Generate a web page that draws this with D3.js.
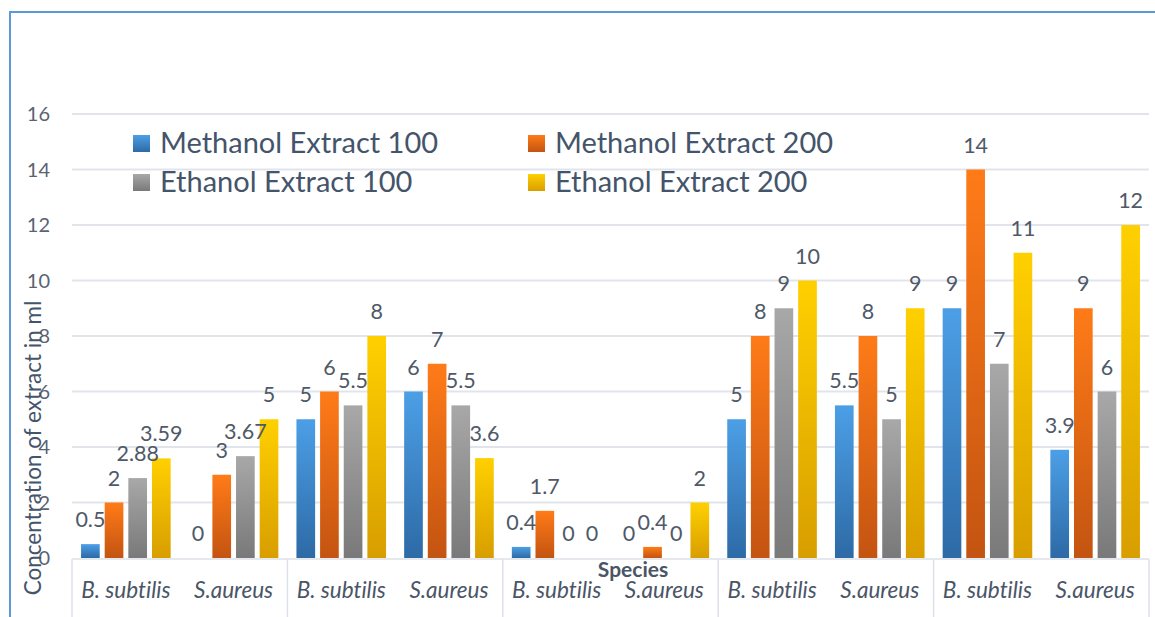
<!DOCTYPE html>
<html>
<head>
<meta charset="utf-8">
<script src="https://cdn.jsdelivr.net/npm/d3@7"></script>
<style>
    body { margin: 0; background: #fff; }
    svg { display: block; font-family: Lato, "Open Sans", sans-serif; font-variant-ligatures: none; }
</style>
</head>
<body>
<div id="chart"></div>
<script>
var categories = ['B. subtilis', 'S.aureus', 'B. subtilis', 'S.aureus', 'B. subtilis',
                  'S.aureus', 'B. subtilis', 'S.aureus', 'B. subtilis', 'S.aureus'];
var seriesNames = ['Methanol Extract 100', 'Methanol Extract 200',
                   'Ethanol Extract 100', 'Ethanol Extract 200'];
var methanol100 = [0.5, 0, 5, 6, 0.4, 0, 5, 5.5, 9, 3.9];
var methanol200 = [2, 3, 6, 7, 1.7, 0.4, 8, 8, 14, 9];
var ethanol100 = [2.88, 3.67, 5.5, 5.5, 0, 0, 9, 5, 7, 6];
var ethanol200 = [3.59, 5, 8, 3.6, 0, 2, 10, 9, 11, 12];
var yTicks = [0, 2, 4, 6, 8, 10, 12, 14, 16];

var seriesValues = [methanol100, methanol200, ethanol100, ethanol200];
var gradColors = [['#4c9fe6', '#2d6aa6'], ['#ff7b18', '#c35411'],
                  ['#a8a8a8', '#797979'], ['#ffd000', '#d89e00']];

var width = 1155,
    height = 617,
    plotLeft = 72,
    plotRight = 1149,
    plotBottom = 558,
    plotTop = 114;

var svg = d3.select('#chart')
    .append('svg')
    .attr('width', width)
    .attr('height', height);

var defs = svg.append('defs');
gradColors.forEach(function (c, i) {
    var g = defs.append('linearGradient')
        .attr('id', 'grad' + i)
        .attr('x1', 0).attr('y1', 0)
        .attr('x2', 0).attr('y2', 1);
    g.append('stop').attr('offset', '0%').attr('stop-color', c[0]);
    g.append('stop').attr('offset', '100%').attr('stop-color', c[1]);
});

// chart frame
svg.append('path')
    .attr('d', 'M10,' + height + 'V12H' + width)
    .attr('fill', 'none')
    .attr('stroke', '#5b9bd5')
    .attr('stroke-width', 2);

var y = d3.scaleLinear().domain([0, 16]).range([plotBottom, plotTop]);

var x0 = d3.scaleBand()
    .domain(d3.range(categories.length))
    .range([plotLeft, plotRight]);

var inset = x0.bandwidth() * 0.084;
var x1 = d3.scaleBand()
    .domain(d3.range(seriesNames.length))
    .range([inset, x0.bandwidth() - inset])
    .paddingInner(0.21);

// gridlines
svg.append('g')
    .selectAll('line')
    .data(yTicks.slice(1))
    .enter()
    .append('line')
    .attr('x1', plotLeft)
    .attr('x2', plotRight)
    .attr('y1', function (d) { return y(d); })
    .attr('y2', function (d) { return y(d); })
    .attr('stroke', '#e1e5eb')
    .attr('stroke-width', 2);

// y tick labels
svg.append('g')
    .selectAll('text')
    .data(yTicks)
    .enter()
    .append('text')
    .attr('x', 50)
    .attr('y', function (d) { return y(d) + 7; })
    .attr('text-anchor', 'end')
    .attr('font-size', 20)
    .attr('fill', '#5a6372')
    .text(function (d) { return d; });

// category axis with group separators
svg.append('line')
    .attr('x1', plotLeft).attr('x2', plotRight)
    .attr('y1', plotBottom + 1).attr('y2', plotBottom + 1)
    .attr('stroke', '#dde2e8')
    .attr('stroke-width', 1.5);

svg.append('g')
    .selectAll('line')
    .data(d3.range(0, categories.length + 1, 2))
    .enter()
    .append('line')
    .attr('x1', function (d) { return d < categories.length ? x0(d) : plotRight; })
    .attr('x2', function (d) { return d < categories.length ? x0(d) : plotRight; })
    .attr('y1', plotBottom + 1)
    .attr('y2', height)
    .attr('stroke', '#dde2e8')
    .attr('stroke-width', 1.5);

svg.append('g')
    .selectAll('text')
    .data(categories)
    .enter()
    .append('text')
    .attr('x', function (d, i) { return x0(i) + x0.bandwidth() / 2; })
    .attr('y', 598)
    .attr('text-anchor', 'middle')
    .attr('font-size', 22.5)
    .attr('font-style', 'italic')
    .attr('fill', '#4a5567')
    .text(function (d) { return d; });

// bars
var groups = svg.append('g')
    .selectAll('g')
    .data(categories)
    .enter()
    .append('g')
    .attr('transform', function (d, i) { return 'translate(' + x0(i) + ',0)'; });

groups.selectAll('rect')
    .data(function (d, i) {
        return seriesValues.map(function (s, k) { return { k: k, v: s[i] }; });
    })
    .enter()
    .append('rect')
    .attr('x', function (d) { return x1(d.k); })
    .attr('y', function (d) { return y(d.v); })
    .attr('width', x1.bandwidth())
    .attr('height', function (d) { return y(0) - y(d.v); })
    .attr('fill', function (d) { return 'url(#grad' + d.k + ')'; });

groups.selectAll('text')
    .data(function (d, i) {
        return seriesValues.map(function (s, k) { return { k: k, v: s[i] }; });
    })
    .enter()
    .append('text')
    .attr('x', function (d) { return x1(d.k) + x1.bandwidth() / 2; })
    .attr('y', function (d) { return y(d.v) - 17; })
    .attr('text-anchor', 'middle')
    .attr('font-size', 21.5)
    .attr('fill', '#4f5968')
    .text(function (d) { return d.v; });

// axis titles
svg.append('text')
    .attr('x', 633)
    .attr('y', 577)
    .attr('text-anchor', 'middle')
    .attr('font-size', 21)
    .attr('font-weight', 'bold')
    .attr('fill', '#4a5567')
    .text('Species');

svg.append('text')
    .attr('transform', 'translate(41,448) rotate(-90)')
    .attr('text-anchor', 'middle')
    .attr('font-size', 22.5)
    .attr('fill', '#44546a')
    .text('Concentration of extract in ml');

// legend
var legendPos = [[133, 135], [528, 135], [133, 174], [528, 174]];
var legend = svg.append('g')
    .selectAll('g')
    .data(seriesNames)
    .enter()
    .append('g')
    .attr('transform', function (d, i) {
        return 'translate(' + legendPos[i][0] + ',' + legendPos[i][1] + ')';
    });

legend.append('rect')
    .attr('width', 17)
    .attr('height', 17)
    .attr('fill', function (d, i) { return 'url(#grad' + i + ')'; });

legend.append('text')
    .attr('x', 27)
    .attr('y', 18)
    .attr('font-size', 29)
    .attr('fill', '#44546a')
    .text(function (d) { return d; });
</script>
</body>
</html>
